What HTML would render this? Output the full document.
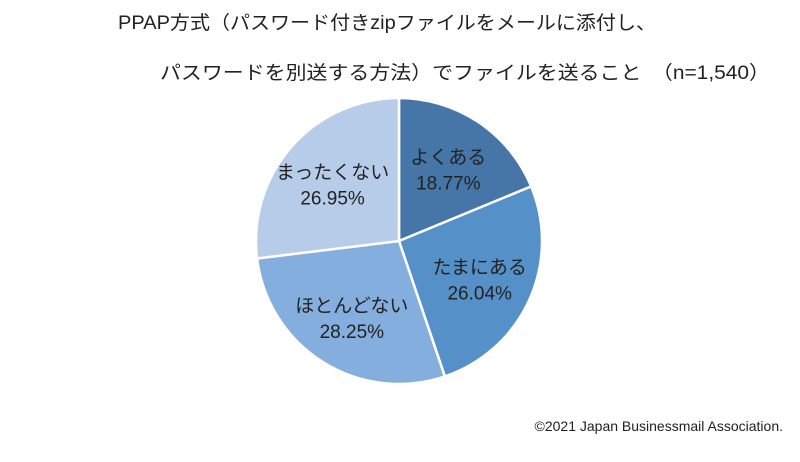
<!DOCTYPE html>
<html><head><meta charset="utf-8"><style>
body{margin:0;background:#fff;width:800px;height:457px;overflow:hidden}
svg text{font-family:"Liberation Sans","Noto Sans CJK JP",sans-serif;fill:#222}
</style></head><body>
<svg width="800" height="457">
<text x="118" y="29" font-size="19" textLength="538" lengthAdjust="spacingAndGlyphs">PPAP方式（パスワード付きzipファイルをメールに添付し、</text>
<text x="160" y="79" font-size="19" textLength="610" lengthAdjust="spacingAndGlyphs">パスワードを別送する方法）でファイルを送ること　（n=1,540）</text>
<g id="pie"></g>
<text x="783" y="431" font-size="14" text-anchor="end">©2021 Japan Businessmail Association.</text>
</svg>
<script>
const categories=["よくある","たまにある","ほとんどない","まったくない"];
const values=[18.77,26.04,28.25,26.95];
const labels=["18.77%","26.04%","28.25%","26.95%"];
const colors=["#4676a8","#5690c8","#84aedd","#b7cce8"];
const cx=399,cy=241,r=143,ns="http://www.w3.org/2000/svg";
const g=document.getElementById('pie');
const total=values.reduce((a,b)=>a+b,0);
let a0=0;
values.forEach((v,i)=>{
 const a1=a0+v/total*2*Math.PI;
 const p=(a)=>[cx+r*Math.sin(a),cy-r*Math.cos(a)];
 const [x0,y0]=p(a0),[x1,y1]=p(a1);
 const path=document.createElementNS(ns,'path');
 path.setAttribute('d',`M${cx},${cy}L${x0},${y0}A${r},${r} 0 ${a1-a0>Math.PI?1:0} 1 ${x1},${y1}Z`);
 path.setAttribute('fill',colors[i]);path.setAttribute('stroke','#fff');path.setAttribute('stroke-width','2.5');
 
 
 g.appendChild(path);
 const m=(a0+a1)/2,lr=r*0.62;
 const lx=cx+lr*Math.sin(m),ly=cy-lr*Math.cos(m);
 [categories[i],labels[i]].forEach((s,j)=>{
  const t=document.createElementNS(ns,'text');
  t.setAttribute('x',lx);t.setAttribute('y',ly-4+j*26);
  t.setAttribute('text-anchor','middle');t.setAttribute('font-size','19');
  t.textContent=s;
  
  
  g.appendChild(t);
 });
 a0=a1;
});
</script>
</body></html>
